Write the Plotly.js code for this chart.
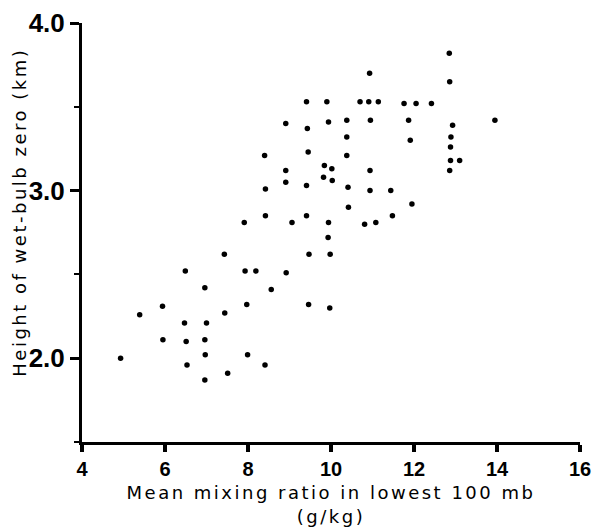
<!DOCTYPE html>
<html>
<head>
<meta charset="utf-8">
<script src="https://cdn.plot.ly/plotly-3.0.1.min.js"></script>
<style>
html,body{margin:0;padding:0;background:#fff;}
#chart{width:593px;height:529px;}
#chart text.xtitle, #chart text.xtitle tspan, #chart .annotation-text, #chart .annotation-text tspan{letter-spacing:2.5px;}
</style>
</head>
<body>
<div id="chart"></div>
<script>
// Mean mixing ratio in lowest 100 mb (g/kg)
var mixingRatio = [
  4.93, 5.39, 5.94, 5.95, 6.47, 6.49, 6.51, 6.53, 6.96, 7.00,
  6.96, 6.97, 6.96, 7.43, 7.44, 7.51, 7.93, 7.97, 7.99, 8.19,
  8.41, 8.56, 7.91, 8.40, 8.42, 8.42, 8.91, 8.91, 8.91, 8.92,
  9.06, 9.41, 9.43, 9.45, 9.41, 9.41, 9.47, 9.46, 9.90, 9.94,
  9.84, 10.02, 9.82, 10.03, 9.94, 9.93, 9.98, 9.97, 10.38, 10.38,
  10.38, 10.41, 10.42, 10.70, 10.91, 10.93, 10.95, 10.94, 10.94, 10.81,
  11.08, 11.14, 11.44, 11.48, 11.76, 12.05, 12.42, 11.87, 11.91, 11.95,
  12.85, 12.86, 12.93, 12.89, 12.88, 12.88, 13.10, 12.86, 13.95
];
// Height of wet-bulb zero (km)
var wetBulbHeight = [
  2.00, 2.26, 2.31, 2.11, 2.21, 2.52, 2.10, 1.96, 2.42, 2.21,
  2.11, 2.02, 1.87, 2.62, 2.27, 1.91, 2.52, 2.32, 2.02, 2.52,
  1.96, 2.41, 2.81, 3.21, 3.01, 2.85, 3.40, 3.12, 3.05, 2.51,
  2.81, 3.53, 3.37, 3.23, 3.03, 2.85, 2.62, 2.32, 3.53, 3.41,
  3.15, 3.13, 3.08, 3.06, 2.81, 2.72, 2.62, 2.30, 3.42, 3.32,
  3.21, 3.02, 2.90, 3.53, 3.53, 3.70, 3.42, 3.12, 3.00, 2.80,
  2.81, 3.53, 3.00, 2.85, 3.52, 3.52, 3.52, 3.42, 3.30, 2.92,
  3.82, 3.65, 3.39, 3.32, 3.26, 3.18, 3.18, 3.12, 3.42
];
var xTickVals = [4, 6, 8, 10, 12, 14, 16];
var xTickText = ["4", "6", "8", "10", "12", "14", "16"];
var yTickVals = [2, 3, 4];
var yTickText = ["2.0", "3.0", "4.0"];

var tickFamily = "Liberation Sans, Arial, sans-serif";
var titleFamily = "DejaVu Sans, Verdana, sans-serif";

var trace = {
  x: mixingRatio,
  y: wetBulbHeight,
  type: "scatter",
  mode: "markers",
  marker: {color: "#000", size: 5.5},
  cliponaxis: false,
  hoverinfo: "x+y"
};

var layout = {
  width: 593,
  height: 529,
  margin: {l: 82, r: 13, t: 23, b: 87},
  paper_bgcolor: "#fff",
  plot_bgcolor: "#fff",
  showlegend: false,
  xaxis: {
    range: [4, 16.0001],
    showgrid: false,
    zeroline: false,
    showline: true,
    linecolor: "#000",
    linewidth: 3,
    ticks: "outside",
    ticklen: 7,
    tickwidth: 4,
    tickcolor: "#000",
    tickvals: xTickVals,
    ticktext: xTickText,
    ticklabeloverflow: "allow",
    tickfont: {family: tickFamily, size: 20, color: "#000", weight: "bold"},
    title: {
      text: "Mean mixing ratio in lowest 100 mb<br>(g/kg)",
      font: {family: titleFamily, size: 18, color: "#000"},
      standoff: 8
    }
  },
  yaxis: {
    range: [1.5, 4.0001],
    showgrid: false,
    zeroline: false,
    showline: true,
    linecolor: "#000",
    linewidth: 3,
    ticks: "outside",
    ticklen: 9,
    tickwidth: 3,
    tickcolor: "#000",
    tickvals: yTickVals,
    ticktext: yTickText,
    ticklabeloverflow: "allow",
    tickfont: {family: tickFamily, size: 26, color: "#000", weight: "bold"},
    minor: {dtick: 0.5, tick0: 0, ticks: "outside", ticklen: 5, tickwidth: 2, tickcolor: "#000", showgrid: false}
  },
  annotations: [{
    text: "Height of wet-bulb zero (km)",
    xref: "paper", yref: "paper",
    x: -0.1245, y: 0.5497,
    xanchor: "center", yanchor: "middle",
    textangle: -90,
    showarrow: false,
    font: {family: titleFamily, size: 18, color: "#000"}
  }]
};

Plotly.newPlot("chart", [trace], layout, {displayModeBar: false, staticPlot: true});
</script>
</body>
</html>
